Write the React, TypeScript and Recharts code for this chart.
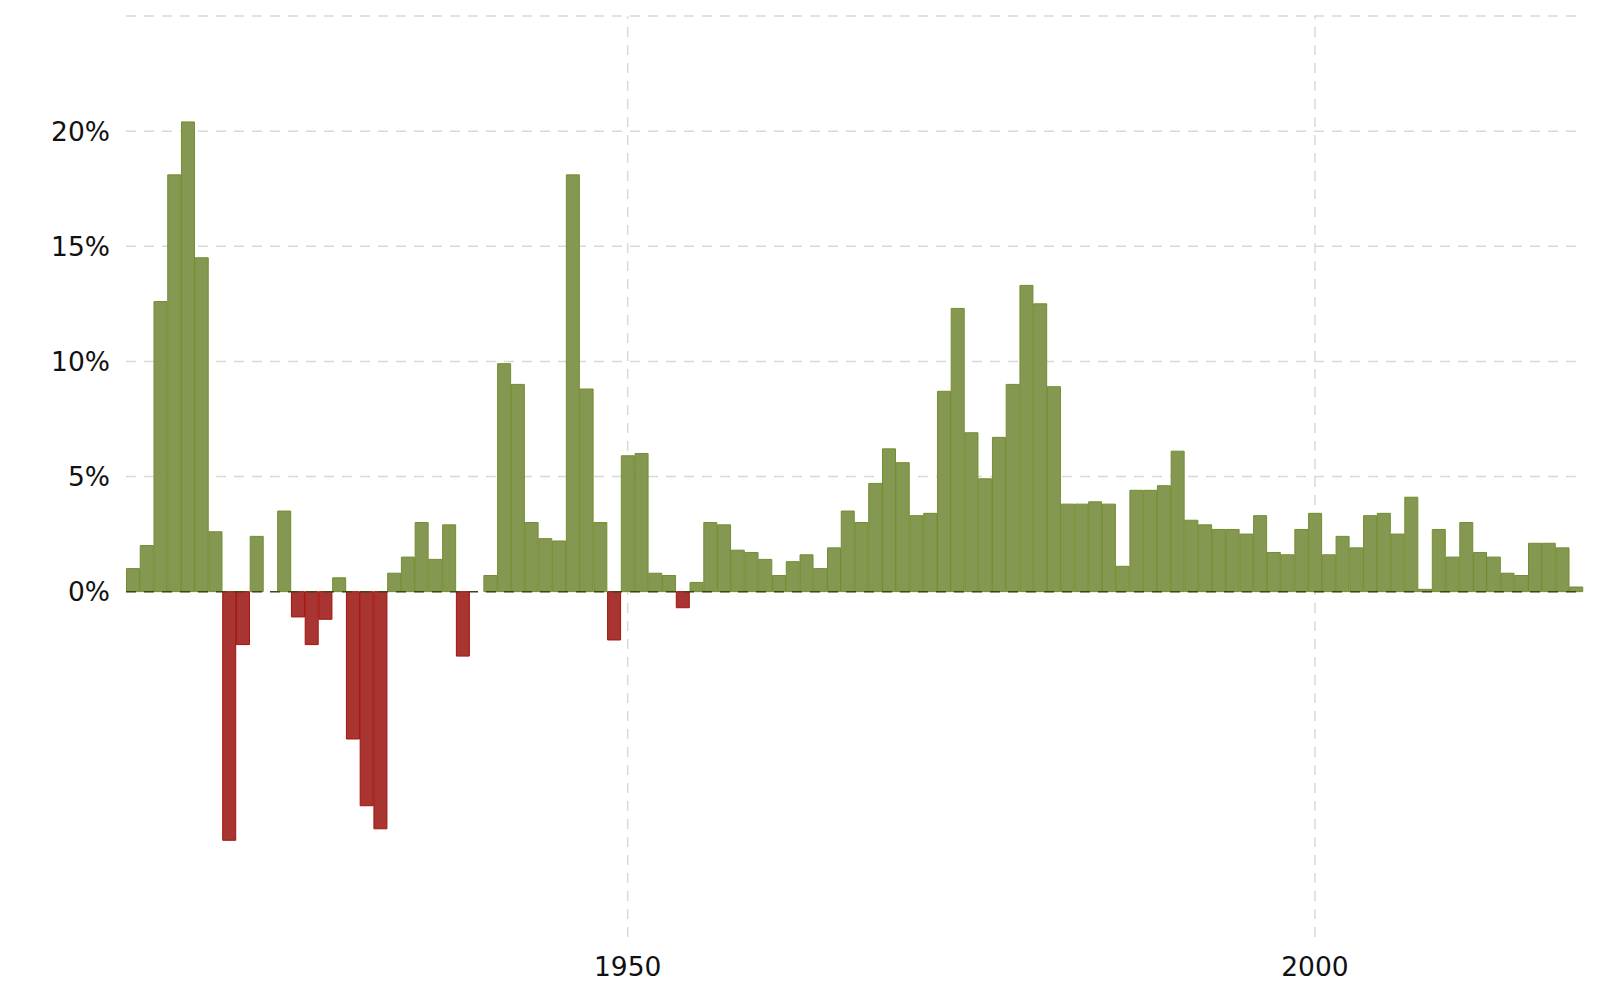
import { BarChart, Bar, Cell, XAxis, YAxis, ReferenceLine } from "recharts"

const years = Array.from({ length: 106 }, (_, i) => 1914 + i)

const rates = [
  1.0, 2.0, 12.6, 18.1, 20.4, 14.5, 2.6, -10.8, -2.3, 2.4,
  0.0, 3.5, -1.1, -2.3, -1.2, 0.6, -6.4, -9.3, -10.3, 0.8,
  1.5, 3.0, 1.4, 2.9, -2.8, 0.0, 0.7, 9.9, 9.0, 3.0,
  2.3, 2.2, 18.1, 8.8, 3.0, -2.1, 5.9, 6.0, 0.8, 0.7,
  -0.7, 0.4, 3.0, 2.9, 1.8, 1.7, 1.4, 0.7, 1.3, 1.6,
  1.0, 1.9, 3.5, 3.0, 4.7, 6.2, 5.6, 3.3, 3.4, 8.7,
  12.3, 6.9, 4.9, 6.7, 9.0, 13.3, 12.5, 8.9, 3.8, 3.8,
  3.9, 3.8, 1.1, 4.4, 4.4, 4.6, 6.1, 3.1, 2.9, 2.7,
  2.7, 2.5, 3.3, 1.7, 1.6, 2.7, 3.4, 1.6, 2.4, 1.9,
  3.3, 3.4, 2.5, 4.1, 0.1, 2.7, 1.5, 3.0, 1.7, 1.5,
  0.8, 0.7, 2.1, 2.1, 1.9, 0.2,
]

const xTicks = [1950, 2000]
const yTicks = [0, 5, 10, 15, 20, 25]

const data = years.map((year, i) => ({ year, rate: rates[i] }))

const font = { fontFamily: "DejaVu Sans, Verdana, sans-serif", fontSize: 26.5, fill: "#111" }
const gridColor = "#d9d9d9"

export default function App() {
  return (
    <BarChart
      width={1584}
      height={975}
      data={data}
      margin={{ top: 8, right: 9, left: 0, bottom: 0 }}
      barCategoryGap={0.5}
    >
      {yTicks.filter((t) => t > 0).map((t) => (
        <ReferenceLine key={"h" + t} y={t} stroke={gridColor} strokeDasharray="10 8" strokeWidth={1.5} zIndex={-100} />
      ))}
      {xTicks.map((t) => (
        <ReferenceLine key={"v" + t} x={t} stroke={gridColor} strokeDasharray="10 8" strokeWidth={1.5} zIndex={-100} />
      ))}
      <XAxis
        dataKey="year"
        ticks={xTicks}
        axisLine={false}
        tickLine={false}
        tick={font}
        tickMargin={14}
        height={46}
      />
      <YAxis
        domain={[-15, 25]}
        ticks={yTicks}
        tickFormatter={(v: number) => (v === 25 ? "" : `${v}%`)}
        axisLine={false}
        tickLine={false}
        tick={font}
        tickMargin={10}
        width={118}
        allowDataOverflow
      />
      <Bar dataKey="rate" isAnimationActive={false} strokeWidth={1}>
        {data.map((d) => (
          <Cell
            key={d.year}
            fill={d.rate < 0 ? "#a83531" : "#859852"}
            stroke={d.rate < 0 ? "#a3140f" : "#738d30"}
          />
        ))}
      </Bar>
      <ReferenceLine y={0} stroke="#3a4a10" strokeDasharray="10 8" strokeWidth={1.5} />
    </BarChart>
  )
}
